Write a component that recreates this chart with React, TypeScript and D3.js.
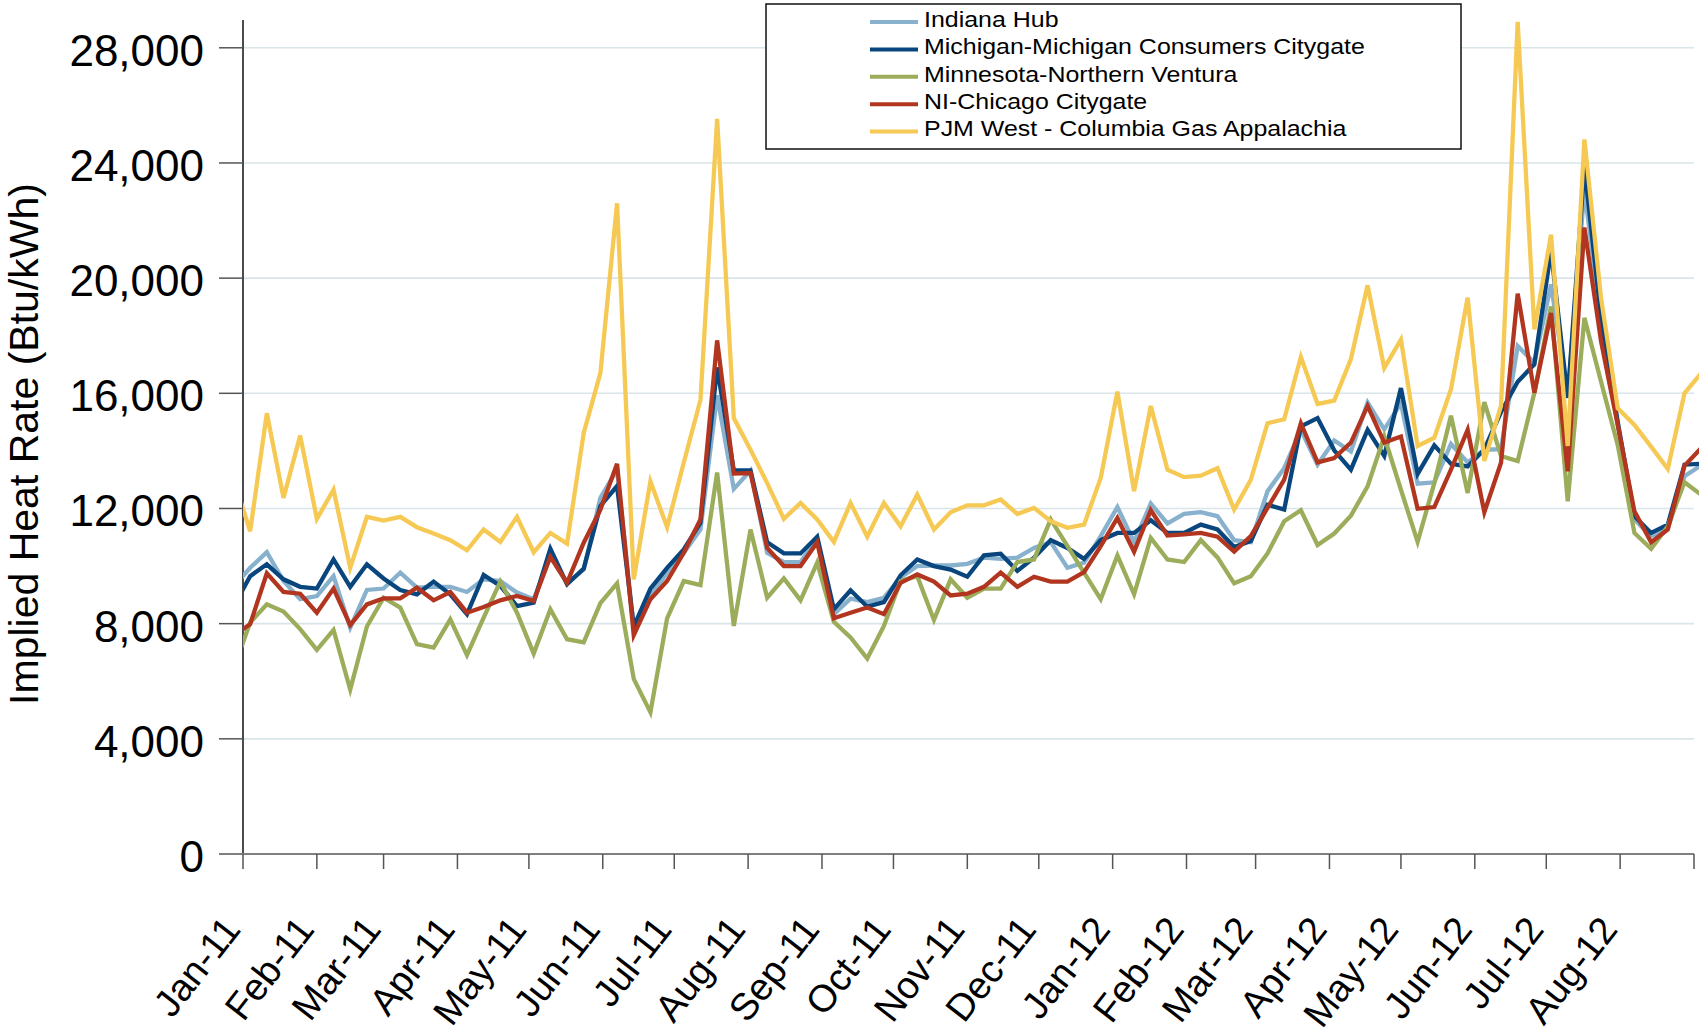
import React from 'react'
import * as d3 from 'd3'

// weekly implied heat rates (Btu/kWh), first point 28-Dec-2010
const indianaHub = [
    9270, 9940, 10480, 9480, 8850, 8960, 9650, 7860, 9170, 9220,
    9770, 9250, 9280, 9280, 9100, 9540, 9480, 9080, 8850, 10350,
    9400, 9880, 12370, 13350, 7860, 8960, 9770, 10460, 11270, 15930,
    12680, 13320, 10460, 10140, 10140, 10950, 8330, 8870, 8750, 8900,
    9600, 10000, 10020, 10020, 10080, 10290, 10250, 10290, 10630, 10830,
    9940, 10120, 11040, 12050, 10830, 12170, 11480, 11810, 11870, 11730,
    10900, 10830, 12600, 13400, 14730, 13520, 14360, 13980, 15680, 14750,
    15650, 12860, 12910, 14240, 13600, 14040, 14060, 17640, 17060, 19780,
    15900, 23070, 18500, 14900, 11620, 11040, 11300, 13120, 13500,
]
const michigan = [
    8580, 9650, 10060, 9540, 9280, 9220, 10230, 9280, 10060, 9570,
    9170, 9020, 9460, 9020, 8330, 9690, 9310, 8610, 8730, 10600,
    9370, 9910, 12090, 12780, 7900, 9220, 9940, 10580, 11500, 16900,
    13320, 13320, 10830, 10440, 10440, 11020, 8500, 9160, 8590, 8750,
    9680, 10230, 10000, 9880, 9630, 10370, 10430, 9830, 10290, 10900,
    10630, 10250, 10900, 11150, 11150, 11590, 11150, 11150, 11440, 11270,
    10660, 10870, 12130, 11960, 14850, 15140, 14020, 13350, 14730, 13830,
    16180, 13200, 14190, 13550, 13460, 14050, 15350, 16400, 17010, 20960,
    15840, 23880, 18600, 15000, 11730, 11150, 11440, 13520, 13550,
]
const minnesota = [
    6430, 8040, 8670, 8420, 7810, 7090, 7780, 5710, 7900, 8900,
    8560, 7290, 7170, 8150, 6910, 8210, 9460, 8380, 6960, 8500,
    7460, 7350, 8710, 9400, 6080, 4920, 8180, 9480, 9340, 13250,
    7920, 11270, 8900, 9570, 8810, 10120, 8060, 7520, 6790, 7920,
    9480, 9650, 8130, 9540, 8900, 9220, 9220, 10140, 10230, 11620,
    10700, 9770, 8850, 10370, 9020, 10980, 10230, 10140, 10900, 10300,
    9400, 9650, 10440, 11560, 11940, 10730, 11130, 11750, 12770, 14500,
    12650, 10840, 12880, 15220, 12540, 15690, 13820, 13650, 16020, 19020,
    12250, 18620, 16400, 14200, 11150, 10600, 11380, 12910, 12480,
]
const niChicago = [
    7580, 7980, 9750, 9100, 9040, 8380, 9220, 7950, 8670, 8880,
    8880, 9250, 8810, 9100, 8380, 8580, 8810, 8960, 8790, 10320,
    9420, 10810, 11960, 13550, 7600, 8850, 9480, 10460, 11620, 17840,
    13210, 13230, 10630, 10000, 10000, 10830, 8190, 8380, 8560, 8330,
    9420, 9710, 9460, 8980, 9040, 9280, 9770, 9280, 9630, 9460,
    9460, 9790, 10690, 11670, 10500, 11940, 11060, 11100, 11150, 11020,
    10500, 11040, 12020, 13000, 14960, 13600, 13750, 14290, 15560, 14290,
    14500, 11990, 12050, 13350, 14730, 11870, 13590, 19460, 16020, 18790,
    13290, 21760, 17800, 14900, 11900, 10830, 11270, 13480, 14100,
]
const pjmWest = [
    13040, 11210, 15310, 12370, 14530, 11640, 12650, 9940, 11710, 11580,
    11710, 11350, 11130, 10900, 10550, 11270, 10840, 11710, 10480, 11150,
    10780, 14620, 16700, 22600, 9540, 12940, 11350, 13600, 15770, 25530,
    15140, 14040, 12880, 11640, 12190, 11620, 10840, 12190, 11020, 12190,
    11380, 12480, 11270, 11870, 12110, 12110, 12310, 11810, 12020, 11560,
    11330, 11440, 13060, 16060, 12600, 15560, 13350, 13090, 13140, 13400,
    11960, 13000, 14960, 15100, 17260, 15630, 15750, 17190, 19750, 16880,
    17870, 14170, 14460, 16140, 19320, 13650, 15560, 28900, 18220, 21510,
    14170, 24820, 19300, 15480, 14900, 14150, 13370, 16000, 16700,
]

const seriesNames = [
    'Indiana Hub',
    'Michigan-Michigan Consumers Citygate',
    'Minnesota-Northern Ventura',
    'NI-Chicago Citygate',
    'PJM West - Columbia Gas Appalachia',
]
const seriesValues = [indianaHub, michigan, minnesota, niChicago, pjmWest]
const seriesColors = ['#87b1cd', '#0a467e', '#9bac5b', '#b2361f', '#f5c953']
const yTicks = [0, 4000, 8000, 12000, 16000, 20000, 24000, 28000]

const FONT = '"Liberation Sans", Arial, Helvetica, sans-serif'

const App = () => {
    const width = 1699
    const height = 1033
    const plot = { left: 243, right: 1694, top: 19, bottom: 854 }

    const firstWeek = new Date(2010, 11, 28)
    const weeks = indianaHub.map((_, i) => d3.timeDay.offset(firstWeek, 7 * i))

    const xScale = d3
        .scaleTime()
        .domain([new Date(2011, 0, 1), new Date(2012, 8, 1)])
        .range([plot.left, plot.right])
    const yScale = d3.scaleLinear().domain([0, 29000]).range([plot.bottom, plot.top])

    const months = d3.timeMonth.range(new Date(2011, 0, 1), new Date(2012, 8, 2))
    const fmtMonth = d3.timeFormat('%b-%y')
    const fmtNum = d3.format(',')

    const line = d3
        .line<number>()
        .x((_, i) => xScale(weeks[i]))
        .y((d) => yScale(d))

    return (
        <svg
            width={width}
            height={height}
            style={{ position: 'absolute', left: 0, top: 0, background: '#fff' }}
            fontFamily={FONT}
        >
            <defs>
                <clipPath id="plotClip">
                    <rect x={plot.left} y={0} width={width - plot.left} height={plot.bottom} />
                </clipPath>
            </defs>

            {/* gridlines */}
            {yTicks.slice(1).map((t) => (
                <line key={t} x1={plot.left} x2={plot.right} y1={yScale(t)} y2={yScale(t)} stroke="#d9e5e8" strokeWidth={1.6} />
            ))}

            {/* y axis */}
            <line x1={plot.left} x2={plot.left} y1={20} y2={plot.bottom} stroke="#111" strokeWidth={1.5} />
            {yTicks.map((t) => (
                <g key={t}>
                    <line x1={219} x2={plot.left} y1={yScale(t)} y2={yScale(t)} stroke="#555" strokeWidth={1.5} />
                    <text x={204} y={yScale(t) + 18} textAnchor="end" fontSize={44} fill="#000">
                        {fmtNum(t)}
                    </text>
                </g>
            ))}
            <text
                transform={`translate(38, 444) rotate(-90)`}
                textAnchor="middle"
                fontSize={41}
                fill="#000"
            >
                Implied Heat Rate (Btu/kWh)
            </text>

            {/* x axis */}
            <line x1={228} x2={plot.right} y1={plot.bottom} y2={plot.bottom} stroke="#808080" strokeWidth={2} />
            {months.map((m) => (
                <line key={m.getTime()} x1={xScale(m)} x2={xScale(m)} y1={plot.bottom} y2={plot.bottom + 15} stroke="#555" strokeWidth={1.5} />
            ))}
            {months.slice(0, -1).map((m) => (
                <text
                    key={m.getTime()}
                    transform={`translate(${xScale(m) - 1}, ${plot.bottom + 76}) rotate(-52)`}
                    textAnchor="end"
                    fontSize={38}
                    fill="#000"
                >
                    {fmtMonth(m)}
                </text>
            ))}

            {/* series */}
            <g clipPath="url(#plotClip)">
                {seriesValues.map((vals, s) => (
                    <path
                        key={seriesNames[s]}
                        d={line(vals) || ''}
                        fill="none"
                        stroke={seriesColors[s]}
                        strokeWidth={4.3}
                        strokeLinejoin="miter"
                    />
                ))}
            </g>

            {/* legend */}
            <rect x={766} y={4} width={695} height={145} fill="#fff" stroke="#111" strokeWidth={1.5} />
            {seriesNames.map((name, i) => {
                const ly = 22 + i * 27.4
                return (
                    <g key={name}>
                        <line x1={870} x2={918} y1={ly} y2={ly} stroke={seriesColors[i]} strokeWidth={4} />
                        <text transform={`translate(924, ${ly + 4.8}) scale(1.085, 1)`} fontSize={23} fill="#000">
                            {name}
                        </text>
                    </g>
                )
            })}
        </svg>
    )
}

export default App
